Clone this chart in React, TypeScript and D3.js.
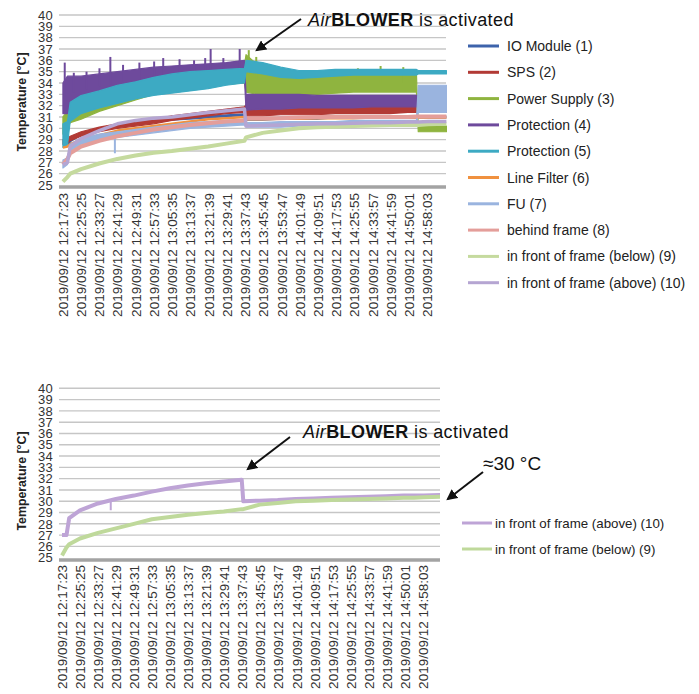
import React, { useEffect, useRef } from "react";
import * as d3 from "d3";

// ---------- DATA ----------
const tickLabels = [
  "2019/09/12 12:17:23", "2019/09/12 12:25:25", "2019/09/12 12:33:27", "2019/09/12 12:41:29",
  "2019/09/12 12:49:31", "2019/09/12 12:57:33", "2019/09/12 13:05:35", "2019/09/12 13:13:37",
  "2019/09/12 13:21:39", "2019/09/12 13:29:41", "2019/09/12 13:37:43", "2019/09/12 13:45:45",
  "2019/09/12 13:53:47", "2019/09/12 14:01:49", "2019/09/12 14:09:51", "2019/09/12 14:17:53",
  "2019/09/12 14:25:55", "2019/09/12 14:33:57", "2019/09/12 14:41:59", "2019/09/12 14:50:01",
  "2019/09/12 14:58:03",
];
// minutes between two consecutive tick labels (8 min 2 s)
const tickStepMin = 8.0333;
const yTickValues = [25, 26, 27, 28, 29, 30, 31, 32, 33, 34, 35, 36, 37, 38, 39, 40];

// sample times, minutes after 12:17:23
const tMin = [0, 2, 3.2, 8, 16, 24, 32, 40, 48, 56, 64, 72, 80, 80.7, 88, 96, 104, 112, 120, 128, 136, 144, 152, 155.8, 156.6, 161, 169];

const ioModule = [28.5, 28.6, 28.9, 29.5, 29.9, 30.2, 30.4, 30.6, 30.8, 30.9, 31.0, 31.1, 31.2, 30.8, 30.8, 30.9, 30.9, 30.9, 31.0, 31.0, 31.0, 31.0, 31.0, 31.0, 31.0, 31.0, 31.0];
const spsLo = [28.6, 28.7, 28.9, 29.3, 29.7, 30.0, 30.2, 30.4, 30.7, 30.9, 31.1, 31.3, 31.4, 31.1, 31.1, 31.2, 31.2, 31.2, 31.3, 31.3, 31.3, 31.3, 31.4, 31.4, 31.4, 31.4, 31.4];
const spsHi = [29.0, 29.1, 29.3, 29.7, 30.1, 30.4, 30.6, 30.8, 31.1, 31.3, 31.5, 31.7, 31.9, 32.1, 32.0, 32.0, 32.0, 32.1, 32.1, 32.1, 32.1, 32.2, 32.2, 32.2, 32.2, 32.2, 32.2];
const powerLo = [29.5, 30.0, 30.5, 30.8, 31.5, 32.0, 32.5, 33.0, 33.3, 33.5, 33.7, 33.9, 34.0, 33.2, 32.9, 32.9, 33.0, 33.0, 33.1, 33.2, 33.2, 33.2, 33.2, 33.2, 29.7, 29.7, 29.7];
const powerHi = [31.0, 31.5, 32.0, 32.5, 33.0, 33.5, 34.0, 34.5, 34.8, 35.0, 35.2, 35.4, 35.6, 36.5, 35.2, 34.8, 34.7, 34.7, 34.7, 34.8, 34.8, 34.8, 34.8, 34.8, 30.2, 30.2, 30.2];
const powerSpikes = [[81.9, 36.9], [85.2, 36.3], [130, 35.3], [140, 35.5], [150, 35.4]];
const prot4Lo = [31.3, 31.3, 31.5, 32.0, 32.5, 33.0, 33.3, 33.6, 33.8, 34.0, 34.2, 34.3, 34.4, 31.6, 31.7, 31.7, 31.8, 31.8, 31.8, 31.8, 31.9, 31.9, 31.9, 31.9, 31.9, 31.9, 31.9];
const prot4Hi = [34.0, 34.6, 34.6, 34.6, 34.8, 35.0, 35.2, 35.4, 35.5, 35.6, 35.7, 35.8, 36.0, 33.0, 33.0, 33.0, 33.0, 32.9, 32.9, 32.9, 32.9, 32.9, 32.9, 32.9, 32.9, 32.9, 32.9];
const prot4Spikes = [[0.8, 35.8], [4.8, 34.9], [10.4, 35.0], [16.1, 35.3], [20.9, 36.3], [26.5, 35.6], [33.7, 35.8], [40.2, 35.9], [44.2, 36.2], [51.4, 36.1], [57.8, 36.0], [62.7, 36.2], [65.1, 37.0], [70.7, 36.2], [77.9, 37.0]];
const prot5Lo = [28.3, 28.5, 30.6, 31.3, 31.8, 32.2, 32.6, 32.9, 33.1, 33.3, 33.5, 33.8, 34.0, 35.0, 34.8, 34.5, 34.4, 34.5, 34.6, 34.7, 34.7, 34.7, 34.7, 34.7, 34.8, 34.8, 34.8];
const prot5Hi = [30.4, 30.6, 32.3, 32.9, 33.3, 33.8, 34.1, 34.5, 34.8, 35.0, 35.1, 35.2, 35.3, 36.0, 35.8, 35.4, 35.1, 35.1, 35.2, 35.2, 35.2, 35.2, 35.2, 35.2, 35.1, 35.1, 35.1];
const lineFilter = [28.3, 28.4, 28.6, 29.0, 29.4, 29.8, 30.0, 30.2, 30.4, 30.6, 30.8, 30.9, 31.0, 30.8, 30.8, 30.85, 30.85, 30.9, 30.9, 30.9, 30.95, 30.95, 30.95, 30.95, 30.95, 30.95, 30.95];
const fuLo = [26.5, 26.8, 28.0, 28.6, 29.0, 29.2, 29.4, 29.6, 29.8, 30.0, 30.1, 30.2, 30.3, 30.1, 30.1, 30.1, 30.2, 30.2, 30.2, 30.2, 30.3, 30.3, 30.3, 30.3, 31.4, 31.4, 31.4];
const fuHi = [27.2, 27.4, 28.6, 29.1, 29.5, 29.7, 29.9, 30.1, 30.3, 30.5, 30.6, 30.7, 30.8, 30.5, 30.5, 30.6, 30.6, 30.6, 30.6, 30.7, 30.7, 30.7, 30.7, 30.7, 33.8, 33.8, 33.8];
const fuSpikes = [[22.9, 27.8]];
const behindFrame = [26.8, 27.3, 27.8, 28.4, 28.9, 29.3, 29.6, 29.9, 30.1, 30.3, 30.45, 30.6, 30.7, 30.9, 30.9, 30.9, 30.95, 31.0, 31.0, 31.0, 31.0, 31.0, 31.0, 31.05, 31.05, 31.05, 31.05];
const frontBelowTop = [25.3, 25.7, 26.0, 26.4, 26.9, 27.3, 27.6, 27.85, 28.0, 28.2, 28.4, 28.65, 28.9, 29.2, 29.6, 29.8, 30.0, 30.1, 30.15, 30.2, 30.25, 30.3, 30.3, 30.3, 30.3, 30.35, 30.4];
const frontAboveTop = [26.8, 27.0, 28.4, 29.1, 29.8, 30.4, 30.7, 30.9, 31.0, 31.2, 31.4, 31.55, 31.7, 30.2, 30.25, 30.3, 30.35, 30.4, 30.4, 30.45, 30.5, 30.5, 30.55, 30.55, 30.55, 30.6, 30.6];
const frontBelowBottom = [25.2, 25.9, 26.2, 26.7, 27.2, 27.6, 28.0, 28.4, 28.6, 28.8, 28.95, 29.1, 29.3, 29.3, 29.7, 29.85, 30.0, 30.05, 30.1, 30.15, 30.2, 30.25, 30.3, 30.3, 30.3, 30.35, 30.4];
const frontAboveBottom = [27.0, 27.0, 28.5, 29.2, 29.8, 30.2, 30.5, 30.85, 31.15, 31.4, 31.6, 31.75, 31.9, 30.0, 30.05, 30.1, 30.2, 30.25, 30.3, 30.35, 30.4, 30.45, 30.5, 30.5, 30.5, 30.5, 30.55];
const frontAboveBottomSpikes = [[21.7, 29.2]];

// ---------- STYLE ----------
const topSeries = [
  { name: "IO Module (1)", color: "#3d63ab", mid: ioModule, width: 3 },
  { name: "SPS (2)", color: "#b23a35", lo: spsLo, hi: spsHi },
  { name: "Power Supply (3)", color: "#8fb43f", lo: powerLo, hi: powerHi, spikes: powerSpikes },
  { name: "Protection (4)", color: "#6e4a9c", lo: prot4Lo, hi: prot4Hi, spikes: prot4Spikes },
  { name: "Protection (5)", color: "#3daac3", lo: prot5Lo, hi: prot5Hi },
  { name: "Line Filter (6)", color: "#f0913f", mid: lineFilter, width: 2.5 },
  { name: "FU (7)", color: "#9ab4df", lo: fuLo, hi: fuHi, spikes: fuSpikes },
  { name: "behind frame (8)", color: "#e49e9a", mid: behindFrame, width: 4 },
  { name: "in front of frame (below) (9)", color: "#c5da9e", mid: frontBelowTop, width: 4 },
  { name: "in front of frame (above) (10)", color: "#b5a5d2", mid: frontAboveTop, width: 3.5 },
];
const bottomSeries = [
  { name: "in front of frame (above) (10)", color: "#bea4d6", mid: frontAboveBottom, width: 4, spikes: frontAboveBottomSpikes },
  { name: "in front of frame (below) (9)", color: "#bfd99b", mid: frontBelowBottom, width: 4 },
];

const FONT = "'Liberation Sans', Arial, sans-serif";

function drawChart(svg, cfg) {
  const g = svg.append("g");
  const x = d3.scaleLinear().domain([-1.2, 169]).range(cfg.xRange);
  const y = d3.scaleLinear().domain([25, 40]).range(cfg.yRange);
  const clipId = "clip" + cfg.id;
  svg.append("clipPath").attr("id", clipId).append("rect")
    .attr("x", cfg.gridX[0]).attr("y", cfg.yRange[1] - 5)
    .attr("width", cfg.dataEnd - cfg.gridX[0]).attr("height", cfg.yRange[0] - cfg.yRange[1] + 10);

  // gridlines
  g.selectAll("line.grid").data(yTickValues.slice(1)).join("line")
    .attr("x1", cfg.gridX[0]).attr("x2", cfg.gridX[1])
    .attr("y1", (d) => y(d)).attr("y2", (d) => y(d))
    .attr("stroke", "#c6c6c6").attr("stroke-width", 1.4);

  // y labels
  g.selectAll("text.ytick").data(yTickValues).join("text")
    .attr("x", 53).attr("y", (d) => y(d)).attr("dy", "0.36em")
    .attr("text-anchor", "end").attr("font-family", FONT).attr("font-size", 13)
    .attr("letter-spacing", 0.3).attr("fill", "#333").text((d) => d);

  // y title
  g.append("text")
    .attr("transform", `translate(26,${cfg.titleY}) rotate(-90)`)
    .attr("text-anchor", "middle").attr("font-family", FONT).attr("font-weight", "bold")
    .attr("font-size", 12.3).attr("fill", "#222").text("Temperature [°C]");

  // series
  const dg = g.append("g").attr("clip-path", `url(#${clipId})`);
  cfg.series.forEach((s) => {
    const col = s.color;
    let midArr;
    if (s.lo) {
      const area = d3.area().x((d, i) => x(tMin[i])).y0((d, i) => y(s.lo[i])).y1((d, i) => y(s.hi[i]));
      dg.append("path").attr("d", area(tMin)).attr("fill", col).attr("stroke", col)
        .attr("stroke-width", 1.2).attr("stroke-linejoin", "round");
      midArr = s.lo.map((v, i) => (v + s.hi[i]) / 2);
    } else {
      const line = d3.line().x((d, i) => x(tMin[i])).y((d) => y(d));
      dg.append("path").attr("d", line(s.mid)).attr("fill", "none").attr("stroke", col)
        .attr("stroke-width", s.width).attr("stroke-linejoin", "round");
      midArr = s.mid;
    }
    if (s.spikes) {
      const base = d3.scaleLinear().domain(tMin).range(midArr);
      dg.selectAll(null).data(s.spikes).join("line")
        .attr("x1", (d) => x(d[0])).attr("x2", (d) => x(d[0]))
        .attr("y1", (d) => y(base(d[0]))).attr("y2", (d) => y(d[1]))
        .attr("stroke", col).attr("stroke-width", 2);
    }
  });

  // x axis line
  g.append("line").attr("x1", cfg.gridX[0]).attr("x2", cfg.gridX[1])
    .attr("y1", cfg.axisY).attr("y2", cfg.axisY).attr("stroke", "#a3a3a3").attr("stroke-width", 3.5);

  // x labels
  g.selectAll("text.xtick").data(tickLabels).join("text")
    .attr("transform", (d, i) => `translate(${x(i * tickStepMin)},${cfg.labelTop}) rotate(-90)`)
    .attr("dy", "0.36em").attr("text-anchor", "end").attr("font-family", FONT)
    .attr("font-size", 13.5).attr("fill", "#333").text((d) => d);

  // legend
  cfg.series.forEach((s, i) => {
    const ly = cfg.legend.y0 + i * cfg.legend.dy;
    g.append("line").attr("x1", cfg.legend.x1).attr("x2", cfg.legend.x2)
      .attr("y1", ly).attr("y2", ly).attr("stroke", s.color).attr("stroke-width", 3);
    g.append("text").attr("x", cfg.legend.tx).attr("y", ly).attr("dy", "0.36em")
      .attr("font-family", FONT).attr("font-size", cfg.legend.fs).attr("fill", "#222").text(s.name);
  });
}

function annotation(svg, tx, ty, fs) {
  const t = svg.append("text").attr("x", tx).attr("y", ty).attr("font-family", FONT)
    .attr("font-size", fs).attr("letter-spacing", 0.4).attr("fill", "#111");
  t.append("tspan").attr("font-style", "italic").text("Air");
  t.append("tspan").attr("font-weight", "bold").text("BLOWER");
  t.append("tspan").text(" is activated");
}

function arrow(svg, x1, y1, x2, y2) {
  svg.append("line").attr("x1", x1).attr("y1", y1).attr("x2", x2).attr("y2", y2)
    .attr("stroke", "#111").attr("stroke-width", 2).attr("marker-end", "url(#arrowHead)");
}

export default function App() {
  const ref = useRef(null);
  useEffect(() => {
    const svg = d3.select(ref.current);
    svg.selectAll("*").remove();
    svg.append("defs").append("marker").attr("id", "arrowHead")
      .attr("viewBox", "0 0 10 10").attr("refX", 8).attr("refY", 5)
      .attr("markerWidth", 5.5).attr("markerHeight", 5.5).attr("orient", "auto")
      .append("path").attr("d", "M0,0 L10,5 L0,10 z").attr("fill", "#111");

    drawChart(svg, {
      id: "top", series: topSeries, xRange: [60.2, 446.4], yRange: [185, 15],
      gridX: [59, 446], dataEnd: 447, axisY: 187, labelTop: 193, titleY: 102,
      legend: { x1: 468, x2: 499, tx: 507, y0: 46, dy: 26.3, fs: 14 },
    });
    drawChart(svg, {
      id: "bottom", series: bottomSeries, xRange: [59.3, 441.7], yRange: [557.7, 388.3],
      gridX: [59, 440], dataEnd: 440, axisY: 560, labelTop: 565, titleY: 481,
      legend: { x1: 462, x2: 492, tx: 495, y0: 523, dy: 26, fs: 13.3 },
    });

    annotation(svg, 308, 26, 18);
    arrow(svg, 301, 19, 257, 50);
    annotation(svg, 303, 438, 18);
    arrow(svg, 290, 437, 248, 469);
    svg.append("text").attr("x", 483).attr("y", 470).attr("font-family", FONT)
      .attr("font-size", 19).attr("fill", "#111").text("≈30 °C");
    arrow(svg, 483, 472, 448, 499);
  }, []);
  return (
    <svg ref={ref} width={699} height={694}
      style={{ position: "absolute", left: 0, top: 0, background: "#fff" }} />
  );
}
